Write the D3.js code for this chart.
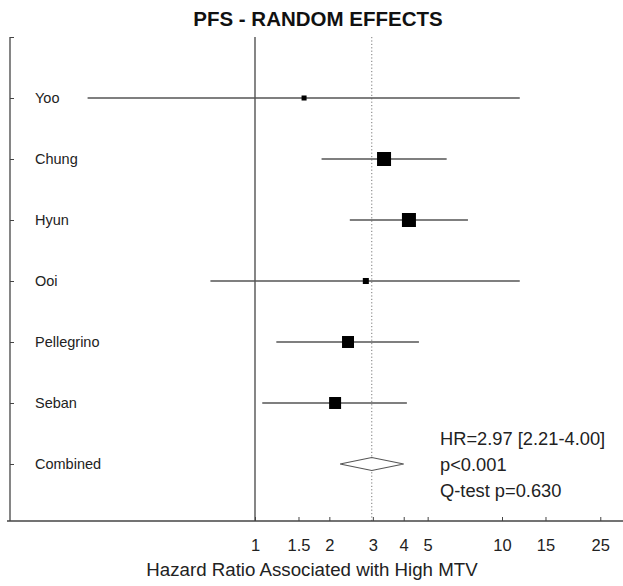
<!DOCTYPE html>
<html><head><meta charset="utf-8">
<script src="https://cdn.jsdelivr.net/npm/d3@7"></script>
<style>body{margin:0;background:#fff}svg{display:block}text{font-family:"Liberation Sans",Arial,sans-serif}</style>
</head><body>
<svg id="c" width="623" height="586"></svg>
<script>
const studies = ["Yoo","Chung","Hyun","Ooi","Pellegrino","Seban","Combined"];
const hr      = [1.58, 3.33, 4.20, 2.81, 2.38, 2.11, 2.97];
const lower   = [0.21, 1.86, 2.42, 0.66, 1.22, 1.07, 2.21];
const upper   = [11.8, 5.97, 7.28, 11.8, 4.61, 4.12, 4.00];
const weights = [3.4, 26.5, 26.5, 4.9, 19.4, 19.4];
const xTicks  = [1, 1.5, 2, 3, 4, 5, 10, 15, 25];
const statLines = ["HR=2.97 [2.21-4.00]", "p<0.001", "Q-test p=0.630"];

const svg = d3.select("#c");
const plotLeft = 10, plotTop = 37, plotBottom = 521;
const x = d3.scaleLog().domain([1, 10]).range([255, 502]);
const y = d3.scaleLinear().domain([0, 7]).range([plotTop, plotTop + 61 * 7]);
const size = d3.scaleSqrt().domain([0, 26.5]).range([0, 14]);

// title
svg.append("text").attr("x", 318).attr("y", 26).attr("text-anchor", "middle")
  .attr("font-size", 20.5).attr("font-weight", "bold").attr("fill", "#111").text("PFS - RANDOM EFFECTS");

// reference lines
svg.append("line").attr("x1", x(1)).attr("x2", x(1)).attr("y1", plotTop).attr("y2", plotBottom)
  .attr("stroke", "#444").attr("stroke-width", 1.3);
svg.append("line").attr("x1", x(hr[6])).attr("x2", x(hr[6])).attr("y1", plotTop).attr("y2", plotBottom)
  .attr("stroke", "#777").attr("stroke-width", 1).attr("stroke-dasharray", "1.2,2.2");

// x axis
const xAxis = d3.axisBottom(x).tickValues(xTicks).tickFormat(d => String(d)).tickSizeInner(-4).tickSizeOuter(0).tickPadding(18);
const gx = svg.append("g").attr("transform", `translate(0,${plotBottom})`).call(xAxis);
gx.select(".domain").attr("stroke", "#444").attr("stroke-width", 1.3).attr("d", `M7,0H623`);
gx.selectAll(".tick line").attr("stroke", "#444");
gx.selectAll(".tick text").attr("font-size", 16.5).attr("fill", "#222").attr("font-family", "Liberation Sans, Arial, sans-serif");

svg.append("text").attr("x", 312).attr("y", 576).attr("text-anchor", "middle")
  .attr("font-size", 18.7).attr("fill", "#222").text("Hazard Ratio Associated with High MTV");

// y axis
const yAxis = d3.axisLeft(y).tickValues(d3.range(0, 8)).tickFormat(() => "").tickSizeInner(-4).tickSizeOuter(0);
const gy = svg.append("g").attr("transform", `translate(${plotLeft},0)`).call(yAxis);
gy.select(".domain").attr("stroke", "#444").attr("stroke-width", 1.3).attr("d", `M0,${plotTop}V${plotBottom}`);
gy.selectAll(".tick line").attr("stroke", "#444");

// study labels
svg.append("g").selectAll("text").data(studies).join("text")
  .attr("x", 35).attr("y", (d, i) => y(i + 1) + 5).attr("font-size", 14.5).attr("fill", "#222").text(d => d);

// CI lines and boxes
const idx = d3.range(6);
svg.append("g").selectAll("line").data(idx).join("line")
  .attr("x1", i => x(lower[i])).attr("x2", i => x(upper[i]))
  .attr("y1", i => y(i + 1)).attr("y2", i => y(i + 1))
  .attr("stroke", "#555").attr("stroke-width", 1.3);
svg.append("g").selectAll("rect").data(idx).join("rect")
  .attr("x", i => x(hr[i]) - size(weights[i]) / 2).attr("y", i => y(i + 1) - size(weights[i]) / 2)
  .attr("width", i => size(weights[i])).attr("height", i => size(weights[i]))
  .attr("fill", "#000");

// combined diamond
const cy = y(7);
svg.append("path")
  .attr("d", `M${x(lower[6])},${cy}L${x(hr[6])},${cy - 6.5}L${x(upper[6])},${cy}L${x(hr[6])},${cy + 6.5}Z`)
  .attr("fill", "#fff").attr("stroke", "#555").attr("stroke-width", 1.2);

// stats text
svg.append("g").selectAll("text").data(statLines).join("text")
  .attr("x", 440).attr("y", (d, i) => 445 + i * 26).attr("font-size", 18.3).attr("fill", "#222").text(d => d);
</script>
</body></html>
